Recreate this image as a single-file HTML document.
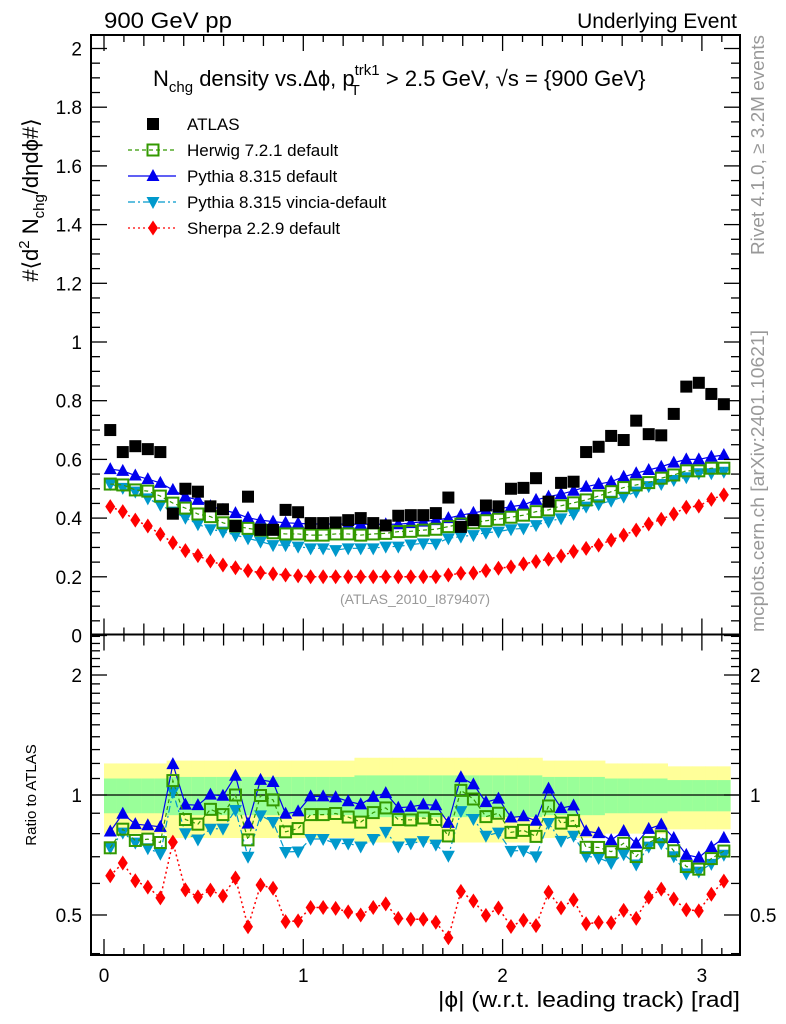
<!DOCTYPE html>
<html><head><meta charset="utf-8">
<style>
html,body{margin:0;padding:0;background:#fff;}
svg{display:block;font-family:"Liberation Sans",sans-serif;}
</style></head>
<body>
<svg id="chart" width="786" height="1024" viewBox="0 0 786 1024" xmlns="http://www.w3.org/2000/svg">
<g id="bands"></g>
<g id="main"></g>
<g id="ratio"></g>
<g id="axes"></g>
<text x="104" y="28" font-size="22" textLength="128" lengthAdjust="spacingAndGlyphs">900 GeV pp</text>
<text x="737" y="28" font-size="21" text-anchor="end">Underlying Event</text>
<text x="153" y="86" font-size="22">N<tspan font-size="15" dy="6">chg</tspan><tspan dy="-6"> density vs.Δϕ, p</tspan><tspan font-size="15" dy="-11">trk1</tspan><tspan font-size="15" dx="-29" dy="20">T</tspan><tspan dy="-9" dx="20"> &gt; 2.5 GeV, √s = {900 GeV}</tspan></text>
<text transform="translate(38,200) rotate(-90)" font-size="22" text-anchor="middle">#⟨d<tspan font-size="15" dy="-9">2</tspan><tspan dy="9"> N</tspan><tspan font-size="15" dy="6">chg</tspan><tspan dy="-6">/dηdϕ#⟩</tspan></text>
<text transform="translate(36,795) rotate(-90)" font-size="15" text-anchor="middle">Ratio to ATLAS</text>
<text transform="translate(764,35) rotate(-90)" font-size="18" fill="#999" text-anchor="end" textLength="220" lengthAdjust="spacingAndGlyphs">Rivet 4.1.0, ≥ 3.2M events</text>
<text transform="translate(764,330) rotate(-90)" font-size="18" fill="#999" text-anchor="end" textLength="302" lengthAdjust="spacingAndGlyphs">mcplots.cern.ch [arXiv:2401.10621]</text>
<text x="415" y="604" font-size="14" fill="#999" text-anchor="middle">(ATLAS_2010_I879407)</text>
<text x="740" y="1007" font-size="22" text-anchor="end" textLength="302" lengthAdjust="spacingAndGlyphs">|ϕ| (w.r.t. leading track) [rad]</text>
<g id="legend"></g>
</svg>
<script>
const atlas=[0.70,0.625,0.645,0.635,0.625,0.415,0.50,0.49,0.44,0.43,0.373,0.473,0.36,0.36,0.428,0.42,0.383,0.383,0.385,0.393,0.40,0.383,0.375,0.408,0.41,0.41,0.417,0.47,0.37,0.393,0.443,0.44,0.50,0.503,0.536,0.456,0.52,0.524,0.625,0.643,0.68,0.666,0.732,0.686,0.682,0.755,0.848,0.861,0.823,0.788];
const herwig=[0.516,0.513,0.496,0.492,0.475,0.451,0.434,0.414,0.405,0.384,0.373,0.365,0.359,0.35,0.346,0.346,0.342,0.342,0.346,0.346,0.342,0.346,0.348,0.354,0.355,0.359,0.362,0.371,0.38,0.384,0.391,0.396,0.403,0.41,0.422,0.428,0.442,0.452,0.462,0.475,0.49,0.504,0.513,0.521,0.536,0.547,0.561,0.561,0.57,0.57];
const pythia=[0.567,0.561,0.545,0.533,0.52,0.496,0.473,0.462,0.441,0.428,0.417,0.401,0.393,0.388,0.384,0.382,0.38,0.38,0.38,0.379,0.379,0.379,0.379,0.379,0.383,0.388,0.393,0.40,0.41,0.418,0.425,0.431,0.439,0.445,0.462,0.473,0.482,0.493,0.507,0.516,0.524,0.541,0.553,0.564,0.575,0.589,0.60,0.60,0.609,0.615];
const vincia=[0.516,0.503,0.49,0.467,0.445,0.422,0.401,0.379,0.362,0.354,0.342,0.331,0.32,0.308,0.308,0.303,0.297,0.297,0.291,0.297,0.297,0.297,0.303,0.303,0.31,0.314,0.313,0.331,0.337,0.342,0.35,0.354,0.362,0.365,0.376,0.388,0.399,0.414,0.439,0.447,0.459,0.473,0.49,0.509,0.516,0.53,0.539,0.553,0.553,0.558];
const sherpa=[0.439,0.422,0.393,0.373,0.345,0.316,0.289,0.272,0.254,0.24,0.231,0.221,0.214,0.21,0.206,0.203,0.2,0.2,0.2,0.2,0.2,0.2,0.2,0.2,0.2,0.2,0.2,0.206,0.212,0.213,0.221,0.229,0.234,0.244,0.252,0.26,0.271,0.286,0.297,0.308,0.325,0.342,0.359,0.38,0.396,0.414,0.437,0.441,0.464,0.479];
const bandInner=[0.1,0.1,0.1,0.1,0.1,0.11,0.11,0.11,0.11,0.11,0.11,0.11,0.11,0.11,0.11,0.11,0.11,0.11,0.11,0.11,0.12,0.12,0.12,0.12,0.12,0.12,0.12,0.12,0.12,0.12,0.12,0.12,0.12,0.12,0.12,0.11,0.11,0.11,0.11,0.11,0.1,0.1,0.1,0.1,0.1,0.09,0.09,0.09,0.09,0.09];
const mainTicks=[0,0.2,0.4,0.6,0.8,1,1.2,1.4,1.6,1.8,2];
const mainTickLabels=["0","0.2","0.4","0.6","0.8","1","1.2","1.4","1.6","1.8","2"];
const xTicks=[0,1,2,3];
const ratioLabels=[0.5,1,2];

const NS="http://www.w3.org/2000/svg";
const L=91,R=740,T=35,MB=634.5,RB=955;
const xs=v=>104+v*199.3;
const ym=v=>635.5-v*293.5;
const yr=v=>795-398.6*Math.log10(v);
const N=atlas.length, bw=Math.PI/N;
const cx=i=>xs((i+0.5)*bw);
function el(tag,attrs,parent){const e=document.createElementNS(NS,tag);for(const k in attrs)e.setAttribute(k,attrs[k]);parent.appendChild(e);return e;}
const main=document.getElementById('main'),ratio=document.getElementById('ratio'),axes=document.getElementById('axes'),bands=document.getElementById('bands'),legend=document.getElementById('legend');

for(let i=0;i<N;i++){
  const x0=xs(i*bw),x1=xs((i+1)*bw);
  const y2=bandInner[i]*2, y1=bandInner[i];
  let r=el('rect',{x:x0,y:yr(1+y2),width:x1-x0+0.5,height:yr(1-y2)-yr(1+y2),fill:'#ffff99'},bands);
  
  
  r=el('rect',{x:x0,y:yr(1+y1),width:x1-x0+0.5,height:yr(1-y1)-yr(1+y1),fill:'#99ff99'},bands);
  
  
}
let one=el('line',{x1:L,x2:R,y1:yr(1),y2:yr(1),stroke:'#000','stroke-width':1.3},bands);



function marker(type,x,y,color,parent){
  let m;
  if(type==='sq') m=el('rect',{x:x-6,y:y-6,width:12,height:12,fill:'#000'},parent);
  else if(type==='osq') m=el('rect',{x:x-5.5,y:y-5.5,width:11,height:11,fill:'none',stroke:color,'stroke-width':2},parent);
  else if(type==='up') m=el('polygon',{points:`${x-6.5},${y+5} ${x+6.5},${y+5} ${x},${y-7}`,fill:color},parent);
  else if(type==='dn') m=el('polygon',{points:`${x-6.5},${y-5} ${x+6.5},${y-5} ${x},${y+7}`,fill:color},parent);
  else m=el('polygon',{points:`${x},${y-7.5} ${x+5},${y} ${x},${y+7.5} ${x-5},${y}`,fill:color},parent);
  return m;
}
const series=[
 {name:'sherpa',data:sherpa,color:'#ff0000',m:'dia',dash:'2,3',w:1.5},
 {name:'vincia',data:vincia,color:'#0099cc',m:'dn',dash:'7,3,2,3',w:1.2},
 {name:'pythia',data:pythia,color:'#0000ee',m:'up',dash:'',w:1.2},
 {name:'herwig',data:herwig,color:'#339900',m:'osq',dash:'4,3',w:1.2},
];
series.forEach(s=>{
  let pts=s.data.map((v,i)=>cx(i)+','+ym(v)).join(' ');
  let pl=el('polyline',{points:pts,fill:'none',stroke:s.color,'stroke-width':s.w,'stroke-dasharray':s.dash},main);
  
  
  s.data.forEach((v,i)=>{const m=marker(s.m,cx(i),ym(v),s.color,main);
    
    });
  let rp=s.data.map((v,i)=>cx(i)+','+yr(v/atlas[i])).join(' ');
  let rl=el('polyline',{points:rp,fill:'none',stroke:s.color,'stroke-width':s.w,'stroke-dasharray':s.dash},ratio);
  
  
  s.data.forEach((v,i)=>{const m=marker(s.m,cx(i),yr(v/atlas[i]),s.color,ratio);
    
    });
});
atlas.forEach((v,i)=>{const m=marker('sq',cx(i),ym(v),'#000',main);
  
  });

let f=el('rect',{x:L,y:T,width:R-L,height:MB-T,fill:'none',stroke:'#000','stroke-width':2},axes);


f=el('rect',{x:L,y:MB,width:R-L,height:RB-MB,fill:'none',stroke:'#000','stroke-width':2},axes);


function tick(x1,y1,x2,y2){const t=el('line',{x1,y1,x2,y2,stroke:'#000','stroke-width':1.3},axes);
  
  }
function label(x,y,txt,anchor,size){const t=el('text',{x,y,'font-size':size,'text-anchor':anchor},axes);t.textContent=txt;
  
  }
for(let v=0;v<=2.0001;v+=0.05){const y=ym(v);if(y<T)continue;const maj=Math.abs(v*5-Math.round(v*5))<1e-6;const len=maj?16:9;tick(L,y,L+len,y);tick(R,y,R-len,y);}
mainTicks.forEach((v,i)=>label(82,ym(v)+7,mainTickLabels[i],'end',19));
for(let v=0;v<=3.15;v+=0.1){const x=xs(v);const maj=Math.abs(v-Math.round(v))<1e-6;const len=maj?16:(Math.round(v*10)%2===0?11:7);
  tick(x,MB,x,MB-len);tick(x,T,x,T+len);tick(x,RB,x,RB-len);tick(x,MB,x,MB+len);}
xTicks.forEach(v=>label(xs(v),982,String(v),'middle',19));
const rt=[0.4,0.5,0.6,0.7,0.8,0.9,1,1.1,1.2,1.3,1.4,1.5,1.6,1.7,1.8,1.9,2,2.1,2.2,2.3,2.4,2.5];
rt.forEach(v=>{const y=yr(v);if(y<MB+1||y>RB-1)return;const maj=(v===0.5||v===1||v===2);const len=maj?16:9;tick(L,y,L+len,y);tick(R,y,R-len,y);});
ratioLabels.forEach(v=>{label(82,yr(v)+7,String(v),'end',19);label(750,yr(v)+7,String(v),'start',19);});

const leg=[
 {m:'sq',c:'#000',t:'ATLAS',dash:null},
 {m:'osq',c:'#339900',t:'Herwig 7.2.1 default',dash:'4,3'},
 {m:'up',c:'#0000ee',t:'Pythia 8.315 default',dash:''},
 {m:'dn',c:'#0099cc',t:'Pythia 8.315 vincia-default',dash:'7,3,2,3'},
 {m:'dia',c:'#ff0000',t:'Sherpa 2.2.9 default',dash:'2,3'},
];
leg.forEach((e,i)=>{
  const y=124+i*26;
  const g=el('g',{},legend);
  
  
  if(e.dash!==null){el('line',{x1:128,x2:176,y1:y,y2:y,stroke:e.c,'stroke-width':1.2,'stroke-dasharray':e.dash},g);}
  marker(e.m,153,y,e.c,g);
  const t=el('text',{x:187,y:y+6,'font-size':17},g);t.textContent=e.t;
});
</script>
</body></html>
